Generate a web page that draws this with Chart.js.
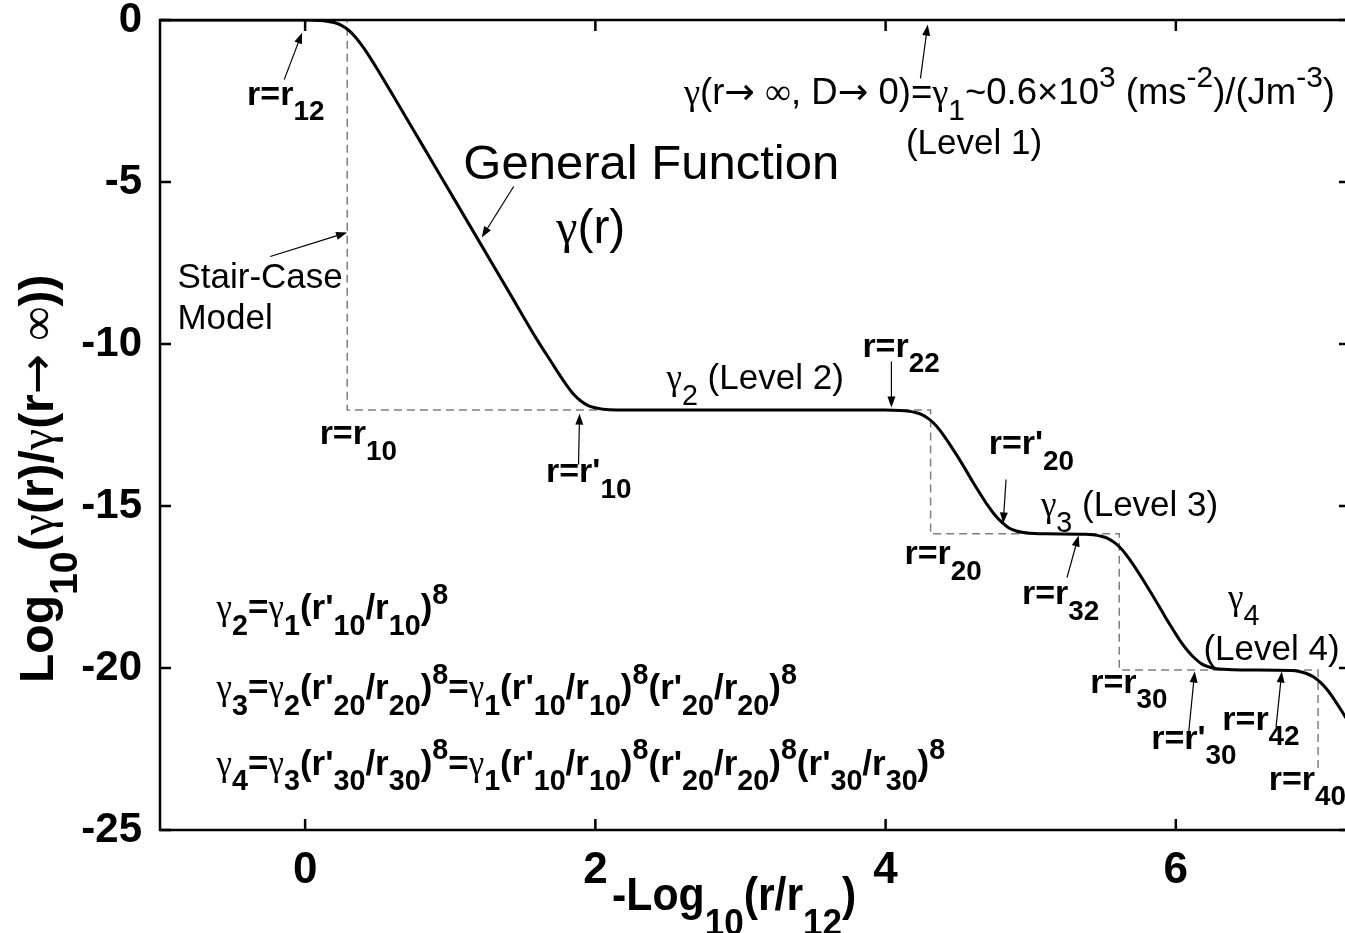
<!DOCTYPE html>
<html>
<head>
<meta charset="utf-8">
<script src="https://cdn.jsdelivr.net/npm/chart.js@4"></script>
<style>
  html, body { margin: 0; padding: 0; background: #fff; overflow: hidden; }
  #wrap { width: 1352px; height: 933px; }
</style>
</head>
<body>
<div id="wrap"><canvas id="chart" width="1352" height="933"></canvas></div>
<script>
// general function gamma(r)
const curveX = [-1, 0, 0.1, 0.15, 0.2, 0.25, 0.3, 0.35, 0.4, 0.45, 0.5, 0.6, 0.8, 1.0, 1.2, 1.4, 1.6, 1.7, 1.75, 1.8, 1.85, 1.9, 1.95, 2.0, 2.05, 2.1, 2.2, 3.0, 4.0,
  4.1, 4.15, 4.2, 4.25, 4.3, 4.35, 4.4, 4.45, 4.5, 4.55, 4.6, 4.65, 4.7, 4.75, 4.8, 4.85, 4.9, 4.95, 5.0, 5.1,
  5.38, 5.43, 5.48, 5.53, 5.58, 5.63, 5.68, 5.73, 5.78, 5.88, 5.93, 5.98, 6.03, 6.08, 6.13, 6.18, 6.23, 6.28, 6.33, 6.45,
  6.8, 6.85, 6.9, 6.95, 7.0, 7.05, 7.1, 7.15, 7.2];
const curveY = [0, -0.003, -0.016, -0.036, -0.079, -0.166, -0.316, -0.546, -0.839, -1.176, -1.536, -2.283, -3.8, -5.32, -6.84, -8.36, -9.88, -10.58, -10.93, -11.26, -11.55, -11.76, -11.90, -11.97, -12.01, -12.03, -12.04, -12.04, -12.04,
  -12.05, -12.07, -12.11, -12.18, -12.32, -12.53, -12.82, -13.15, -13.50, -13.87, -14.25, -14.61, -14.96, -15.26, -15.50, -15.68, -15.77, -15.82, -15.84, -15.86,
  -15.87, -15.89, -15.93, -16.00, -16.14, -16.35, -16.64, -16.97, -17.32, -18.06, -18.45, -18.81, -19.16, -19.46, -19.70, -19.88, -19.97, -20.02, -20.04, -20.06,
  -20.08, -20.11, -20.17, -20.28, -20.46, -20.71, -21.03, -21.38, -21.74];

// stair-case model (dashed)
const stairX = [-1, 0.29, 0.29, 4.31, 4.31, 5.61, 5.61, 6.98, 6.98];
const stairY = [0, 0, -12.04, -12.04, -15.86, -15.86, -20.06, -20.06, -23.1];

const xTicks = [0, 2, 4, 6];
const yTicks = [-25, -20, -15, -10, -5, 0];

// text labels in data units: [text, x, y, size, bold]
const labels = [
  ['r=r_{12}', -0.40, -2.61, 34, true],
  ['Stair-Case', -0.88, -8.26, 35, false],
  ['Model', -0.88, -9.55, 35, false],
  ['General Function', 1.09, -4.92, 49, false],
  ['γ(r)', 1.73, -6.87, 48, false],
  ['γ(r→ ∞, D→ 0)=γ_{1}~0.6×10^{3} (ms^{-2})/(Jm^{-3})', 2.61, -2.58, 36.5, false],
  ['(Level 1)', 4.14, -4.15, 35, false],
  ['γ_{2} (Level 2)', 2.49, -11.40, 35, false],
  ['r=r_{22}', 3.84, -10.39, 34, true],
  ['r=r_{10}', 0.10, -13.1, 34, true],
  ["r=r'_{10}", 1.66, -14.27, 34, true],
  ["r=r'_{20}", 4.71, -13.41, 34, true],
  ['γ_{3} (Level 3)', 5.07, -15.32, 35, false],
  ['r=r_{20}', 4.13, -16.8, 34, true],
  ['r=r_{32}', 4.94, -18.04, 34, true],
  ['γ_{4}', 6.36, -18.19, 35, false],
  ['(Level 4)', 6.19, -19.74, 35, false],
  ['r=r_{30}', 5.41, -20.76, 34, true],
  ["r=r'_{30}", 5.83, -22.5, 34, true],
  ['r=r_{42}', 6.32, -21.9, 34, true],
  ['r=r_{40}', 6.64, -23.75, 34, true],
  ["γ_{2}=γ_{1}(r'_{10}/r_{10})^{8}", -0.61, -18.5, 35, true],
  ["γ_{3}=γ_{2}(r'_{20}/r_{20})^{8}=γ_{1}(r'_{10}/r_{10})^{8}(r'_{20}/r_{20})^{8}", -0.61, -20.97, 35, true],
  ["γ_{4}=γ_{3}(r'_{30}/r_{30})^{8}=γ_{1}(r'_{10}/r_{10})^{8}(r'_{20}/r_{20})^{8}(r'_{30}/r_{30})^{8}", -0.61, -23.29, 35, true]
];

// arrows: [x0, y0, x1(tip), y1(tip)]
const arrows = [
  [-0.144, -1.84, -0.021, -0.39],
  [-0.24, -7.3, 0.289, -6.56],
  [1.437, -5.14, 1.217, -6.71],
  [4.24, -1.8, 4.29, -0.14],
  [4.04, -10.54, 4.04, -11.96],
  [1.884, -13.72, 1.891, -12.15],
  [4.83, -14.18, 4.81, -15.54],
  [5.25, -17.21, 5.33, -15.91],
  [6.08, -22.36, 6.13, -20.11],
  [6.69, -21.84, 6.73, -20.11]
];

const SANS = '"Liberation Sans", Arial, sans-serif';
const SERIF = '"Liberation Serif", "Times New Roman", serif';

function charFont(ch, s, bold) {
  if (ch === 'γ' || ch === '∞') return `${s}px ${SERIF}`;
  if (ch === '→') return `${s}px "DejaVu Sans", sans-serif`;
  if (ch === '×') return `${s}px ${SANS}`;
  return `${bold ? 'bold ' : ''}${s}px ${SANS}`;
}

function rich(ctx, str, x, y, size, bold, subOff = 0.45) {
  const parts = [];
  let i = 0;
  while (i < str.length) {
    if ((str[i] === '_' || str[i] === '^') && str[i + 1] === '{') {
      const end = str.indexOf('}', i);
      parts.push({ t: str.slice(i + 2, end), mode: str[i] });
      i = end + 1;
    } else {
      let j = i;
      while (j < str.length && !((str[j] === '_' || str[j] === '^') && str[j + 1] === '{')) j++;
      parts.push({ t: str.slice(i, j), mode: '' });
      i = j;
    }
  }
  let cx = x;
  parts.forEach(p => {
    const s = p.mode ? size * 0.82 : size;
    const dy = p.mode === '_' ? size * subOff : p.mode === '^' ? -size * 0.45 : 0;
    for (const ch of p.t) {
      ctx.font = charFont(ch, s, bold);
      ctx.fillText(ch, cx, y + dy);
      cx += ctx.measureText(ch).width;
    }
  });
  return cx - x;
}

function arrow(ctx, x0, y0, x1, y1) {
  const ang = Math.atan2(y1 - y0, x1 - x0);
  const len = 11, w = 4;
  ctx.beginPath();
  ctx.moveTo(x0, y0);
  ctx.lineTo(x1 - Math.cos(ang) * len * 0.8, y1 - Math.sin(ang) * len * 0.8);
  ctx.stroke();
  ctx.beginPath();
  ctx.moveTo(x1, y1);
  ctx.lineTo(x1 - Math.cos(ang) * len + Math.sin(ang) * w, y1 - Math.sin(ang) * len - Math.cos(ang) * w);
  ctx.lineTo(x1 - Math.cos(ang) * len - Math.sin(ang) * w, y1 - Math.sin(ang) * len + Math.cos(ang) * w);
  ctx.closePath();
  ctx.fill();
}

const overlay = {
  id: 'overlay',
  afterDraw(chart) {
    const { ctx, chartArea: a, scales: { x, y } } = chart;
    ctx.save();
    ctx.strokeStyle = '#000';
    ctx.fillStyle = '#000';
    ctx.lineWidth = 2.5;
    ctx.strokeRect(a.left, a.top, a.right - a.left, a.bottom - a.top);
    ctx.beginPath();
    xTicks.forEach(v => {
      const px = x.getPixelForValue(v);
      ctx.moveTo(px, a.bottom); ctx.lineTo(px, a.bottom - 11);
      ctx.moveTo(px, a.top); ctx.lineTo(px, a.top + 11);
    });
    yTicks.forEach(v => {
      const py = y.getPixelForValue(v);
      ctx.moveTo(a.left, py); ctx.lineTo(a.left + 11, py);
      ctx.moveTo(a.right, py); ctx.lineTo(a.right - 11, py);
    });
    ctx.stroke();

    ctx.textBaseline = 'alphabetic';
    ctx.textAlign = 'left';
    labels.forEach(([t, lx, ly, size, bold]) => {
      rich(ctx, t, x.getPixelForValue(lx), y.getPixelForValue(ly), size, bold);
    });

    ctx.lineWidth = 1.2;
    arrows.forEach(([x0, y0, x1, y1]) => {
      arrow(ctx, x.getPixelForValue(x0), y.getPixelForValue(y0), x.getPixelForValue(x1), y.getPixelForValue(y1));
    });

    // axis titles
    ctx.save();
    ctx.translate(612, 910);
    ctx.scale(0.93, 1);
    rich(ctx, '-Log_{10}(r/r_{12})', 0, 0, 46, true, 0.55);
    ctx.restore();
    ctx.translate(53, 683);
    ctx.rotate(-Math.PI / 2);
    rich(ctx, 'Log_{10}(γ(r)/γ(r→ ∞))', 0, 0, 48, true, 0.5);
    ctx.restore();
  }
};

new Chart(document.getElementById('chart'), {
  type: 'scatter',
  data: {
    datasets: [
      {
        label: 'General Function',
        data: curveX.map((v, i) => ({ x: v, y: curveY[i] })),
        showLine: true,
        borderColor: '#000',
        borderWidth: 3,
        pointRadius: 0,
        cubicInterpolationMode: 'monotone',
        order: 0
      },
      {
        label: 'Stair-Case Model',
        data: stairX.map((v, i) => ({ x: v, y: stairY[i] })),
        showLine: true,
        borderColor: '#7f7f7f',
        borderWidth: 1.5,
        borderDash: [8, 5],
        pointRadius: 0,
        tension: 0,
        order: 1
      }
    ]
  },
  options: {
    responsive: false,
    animation: false,
    layout: { padding: { left: 0, top: 20, right: 2, bottom: 0 } },
    plugins: { legend: { display: false }, tooltip: { enabled: false } },
    scales: {
      x: {
        type: 'linear',
        min: -1,
        max: 7.2,
        afterBuildTicks: s => { s.ticks = xTicks.map(v => ({ value: v })); },
        afterFit: s => { s.height = 103; s.paddingLeft = 0; s.paddingRight = 0; },
        grid: { display: false },
        border: { display: false },
        ticks: { color: '#000', padding: 6, maxRotation: 0, font: { family: SANS, size: 44, weight: 'bold' } }
      },
      y: {
        type: 'linear',
        min: -25,
        max: 0,
        afterBuildTicks: s => { s.ticks = yTicks.map(v => ({ value: v })); },
        afterFit: s => { s.width = 160; s.paddingTop = 0; s.paddingBottom = 0; },
        grid: { display: false },
        border: { display: false },
        ticks: { color: '#000', padding: 10, font: { family: SANS, size: 42, weight: 'bold' } }
      }
    }
  },
  plugins: [overlay]
});
</script>
</body>
</html>
